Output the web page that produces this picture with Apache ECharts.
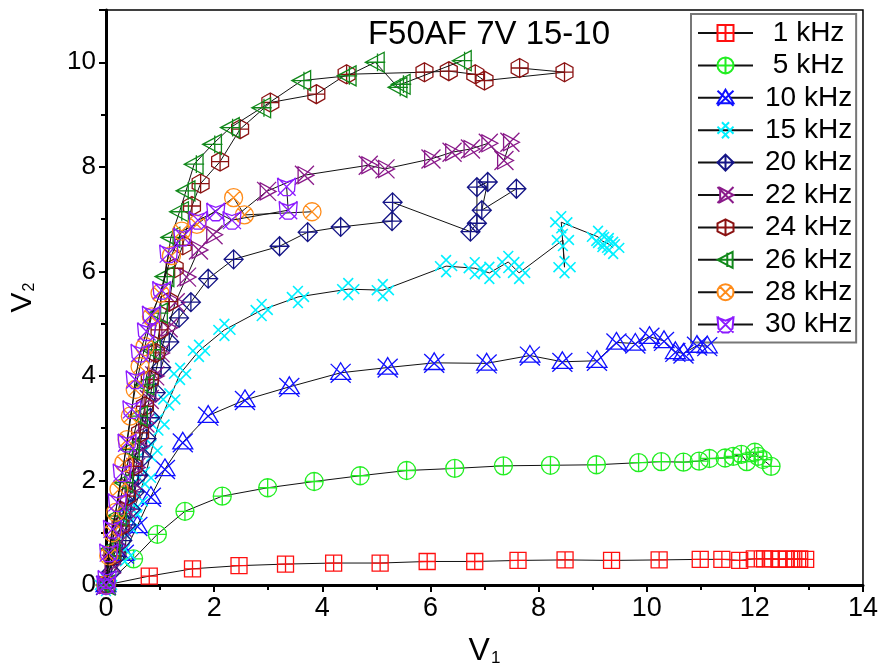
<!DOCTYPE html>
<html>
<head>
<meta charset="utf-8">
<script src="https://cdn.jsdelivr.net/npm/echarts@6/dist/echarts.min.js"></script>
<style>
  html, body { margin: 0; padding: 0; background: #fff; }
  #chart { width: 881px; height: 672px; }
</style>
</head>
<body>
<div id="chart"></div>
<script>
// Measured output voltage V2 against input voltage V1 at several frequencies
const seriesNames = [' 1 kHz', ' 5 kHz', '10 kHz', '15 kHz', '20 kHz', '22 kHz', '24 kHz', '26 kHz', '28 kHz', '30 kHz'];

const f1k = [[0,0],[0.8,0.17],[1.6,0.31],[2.46,0.37],[3.32,0.4],[4.21,0.42],[5.07,0.42],[5.94,0.45],[6.82,0.45],[7.62,0.47],[8.49,0.48],[9.35,0.47],[10.23,0.48],[10.99,0.49],[11.39,0.49],[11.72,0.47],[11.99,0.5],[12.18,0.5],[12.3,0.5],[12.45,0.49],[12.58,0.5],[12.72,0.49],[12.83,0.5],[12.94,0.49]];
const f5k = [[0,0],[0.51,0.5],[0.95,0.97],[1.46,1.41],[2.15,1.7],[2.99,1.86],[3.85,1.98],[4.7,2.09],[5.56,2.19],[6.45,2.23],[7.35,2.28],[8.22,2.29],[9.07,2.3],[9.85,2.34],[10.27,2.36],[10.68,2.35],[10.97,2.37],[11.16,2.42],[11.45,2.43],[11.6,2.46],[11.75,2.5],[11.85,2.36],[12.0,2.54],[12.06,2.46],[12.15,2.4],[12.3,2.27]];
const f10k = [[0,0],[0.33,0.6],[0.58,1.13],[0.83,1.69],[1.09,2.22],[1.42,2.73],[1.89,3.24],[2.57,3.54],[3.39,3.79],[4.34,4.06],[5.21,4.16],[6.07,4.25],[7.04,4.24],[7.84,4.39],[8.44,4.27],[9.08,4.29],[9.44,4.64],[9.79,4.62],[10.05,4.75],[10.32,4.67],[10.53,4.46],[10.68,4.43],[10.93,4.58],[11.12,4.57]];
const f15k = [[0,0],[0.35,0.57],[0.38,1.07],[0.47,1.35],[0.57,1.6],[0.72,2.05],[0.84,2.57],[0.97,3.07],[1.17,3.55],[1.37,4.04],[1.72,4.48],[2.19,4.88],[2.88,5.26],[3.55,5.51],[4.48,5.66],[5.12,5.64],[6.29,6.1],[6.82,6.06],[7.09,5.97],[7.44,6.18],[7.64,5.97],[8.45,6.6],[8.48,6.08],[8.42,6.94],[9.1,6.66],[9.18,6.58],[9.3,6.52],[9.38,6.45]];
const f20k = [[0,0],[0.1,0.25],[0.2,0.55],[0.3,0.85],[0.38,1.15],[0.46,1.45],[0.53,1.78],[0.6,2.1],[0.68,2.45],[0.75,2.8],[0.82,3.2],[0.92,3.68],[1.02,4.16],[1.17,4.65],[1.35,5.11],[1.57,5.41],[1.89,5.86],[2.36,6.23],[3.21,6.48],[3.73,6.75],[4.34,6.85],[5.29,6.96],[5.3,7.32],[6.74,6.76],[6.86,6.92],[6.86,7.61],[7.06,7.71],[6.95,7.17],[7.59,7.58]];
const f22k = [[0,0],[0.1,0.4],[0.2,0.75],[0.3,1.1],[0.38,1.45],[0.47,1.85],[0.55,2.25],[0.62,2.65],[0.72,3.1],[0.8,3.55],[0.9,4.0],[1.0,4.44],[1.15,4.92],[1.28,5.4],[1.49,5.89],[1.71,6.41],[1.98,6.7],[2.97,7.53],[3.67,7.84],[4.85,8.03],[5.16,7.96],[6.01,8.15],[6.4,8.28],[6.74,8.34],[7.07,8.45],[7.36,8.12],[7.47,8.47]];
const f24k = [[0,0],[0.12,0.56],[0.27,1.13],[0.39,1.7],[0.51,2.27],[0.63,2.91],[0.72,3.42],[0.81,3.93],[0.92,4.44],[0.99,4.88],[1.17,5.42],[1.27,6.06],[1.42,6.5],[1.59,7.25],[1.75,7.68],[2.11,8.1],[2.48,8.72],[3.04,9.23],[3.89,9.39],[4.45,9.77],[5.89,9.81],[6.34,9.83],[6.83,9.77],[7.0,9.65],[8.48,9.81],[7.65,9.89]];
const f26k = [[0,0],[0.09,0.69],[0.21,1.32],[0.33,1.96],[0.45,2.59],[0.6,3.23],[0.72,3.83],[0.84,4.5],[0.97,5.2],[1.09,5.9],[1.2,6.65],[1.36,7.14],[1.48,7.54],[1.63,8.05],[1.97,8.43],[2.3,8.75],[2.88,9.13],[3.62,9.65],[4.46,9.74],[4.98,10.0],[5.4,9.52],[5.46,9.58],[6.59,10.03]];
const f28k = [[0,0],[0.05,0.56],[0.12,1.0],[0.18,1.39],[0.24,1.83],[0.33,2.34],[0.39,2.78],[0.45,3.23],[0.54,3.74],[0.63,4.18],[0.72,4.56],[0.84,5.13],[1.0,5.58],[1.21,6.3],[1.4,6.77],[1.68,6.9],[2.36,7.41],[2.56,7.08],[3.81,7.14]];
const f30k = [[0,0],[0.02,0.11],[0.05,0.62],[0.12,1.07],[0.21,1.58],[0.3,2.15],[0.39,2.72],[0.48,3.36],[0.54,3.93],[0.63,4.44],[0.75,4.85],[0.84,5.17],[1.03,5.64],[1.16,6.34],[1.42,6.66],[1.7,6.98],[2.03,7.14],[2.33,6.98],[3.37,7.17],[3.34,7.62]];

const xTicks = [0, 2, 4, 6, 8, 10, 12, 14];
const yTicks = [0, 2, 4, 6, 8, 10];

const seriesData = [f1k, f5k, f10k, f15k, f20k, f22k, f24k, f26k, f28k, f30k];
const colors = ['#ff1010', '#22ee22', '#1010ff', '#00f0ff', '#141486', '#8a1a8a', '#8b1212', '#11881a', '#ff8c1a', '#8c1aff'];

// Outline marker shapes: each one is a base outline plus crossing strokes
const circ = 'M1,10A9,9,0,1,1,19,10A9,9,0,1,1,1,10Z';
const markers = [
  'path://M2,2L18,2L18,18L2,18ZM10,2L10,18M2,10L18,10',
  'path://' + circ + 'M10,1L10,19M1,10L19,10',
  'path://M10,1L19,16L1,16ZM1,2L19,19M19,2L1,19',
  'path://M1,6L14,19M6,1L19,14M1,14L14,1M6,19L19,6',
  'path://M10,1L19,10L10,19L1,10ZM10,1L10,19M1,10L19,10',
  'path://M4,2L4,18L19,10ZM1,1L19,19M1,19L19,1',
  'path://M10,1L18,5.5L18,14.5L10,19L2,14.5L2,5.5ZM10,1L10,19M2,10L18,10',
  'path://M1,10L18,1L18,19ZM12,2L12,18M1,10L19,10',
  'path://' + circ + 'M3.6,3.6L16.4,16.4M16.4,3.6L3.6,16.4',
  'path://M2,3L10,6L18,3L17,14L13,18L7,18L3,14ZM2,2L18,18M18,2L2,18'
];
const sizes = [16, 18, 20, 22, 19, 19, 19, 20, 18, 18];
const strokes = [1.3, 1.3, 1.3, 1.6, 1.3, 1.3, 1.3, 1.3, 1.3, 1.3];

const chart = echarts.init(document.getElementById('chart'));
const baseFont = 'Liberation Sans, Arial, sans-serif';
const narrowFont = 'Liberation Sans Narrow, Liberation Sans, Arial, sans-serif';

chart.setOption({
  animation: false,
  backgroundColor: '#fff',
  title: {
    text: 'F50AF 7V 15-10',
    left: 484,
    top: 13,
    textAlign: 'center',
    textStyle: { fontFamily: baseFont, fontSize: 33, fontWeight: 'normal', color: '#000' }
  },
  legend: {
    left: 691,
    top: 14,
    orient: 'vertical',
    data: seriesNames,
    itemWidth: 55,
    itemHeight: 20,
    itemGap: 4.4,
    padding: [5, 4, 4, 6],
    borderColor: '#777',
    borderWidth: 2,
    backgroundColor: '#fff',
    itemStyle: { color: '#fff' },
    textStyle: { fontFamily: baseFont, fontSize: 28, lineHeight: 24, color: '#000', padding: [0, 0, 0, 7] }
  },
  grid: {
    left: 102, right: 11, top: 10, bottom: 86,
    show: true, borderColor: '#000', borderWidth: 1.5, backgroundColor: 'transparent'
  },
  xAxis: {
    type: 'value', min: xTicks[0], max: xTicks[xTicks.length - 1], interval: 2,
    name: '{v|V}{s|1}',
    nameLocation: 'middle',
    nameGap: 50,
    nameTextStyle: {
      rich: {
        v: { fontFamily: narrowFont, fontSize: 32, color: '#000', lineHeight: 32, verticalAlign: 'bottom' },
        s: { fontFamily: narrowFont, fontSize: 17, color: '#000', lineHeight: 17, verticalAlign: 'bottom', padding: [14, 0, 0, 1] }
      }
    },
    axisLine: { lineStyle: { color: '#000', width: 3 } },
    axisTick: { inside: false, length: 7, lineStyle: { color: '#000', width: 2 } },
    minorTick: { show: true, splitNumber: 2, length: 5, lineStyle: { color: '#000', width: 2 } },
    splitLine: { show: false },
    axisLabel: { margin: 10, fontFamily: narrowFont, fontSize: 27, color: '#000' }
  },
  yAxis: {
    type: 'value', min: yTicks[0], max: 11, interval: 2,
    name: '{v|V}{s|2}',
    nameLocation: 'middle',
    nameGap: 68,
    nameTextStyle: {
      rich: {
        v: { fontFamily: baseFont, fontSize: 30, color: '#000', lineHeight: 30, verticalAlign: 'bottom' },
        s: { fontFamily: baseFont, fontSize: 16, color: '#000', lineHeight: 16, verticalAlign: 'bottom', padding: [12, 0, 0, 1] }
      }
    },
    axisLine: { lineStyle: { color: '#000', width: 3 } },
    axisTick: { inside: false, length: 7, lineStyle: { color: '#000', width: 2 } },
    minorTick: { show: true, splitNumber: 2, length: 5, lineStyle: { color: '#000', width: 2 } },
    splitLine: { show: false },
    axisLabel: { margin: 10, fontFamily: baseFont, fontSize: 26, color: '#000', showMaxLabel: false,
      formatter: v => (yTicks.indexOf(v) >= 0 ? String(v) : '') }
  },
  series: seriesNames.map((name, i) => ({
    name: name,
    type: 'line',
    data: seriesData[i],
    symbol: markers[i],
    symbolSize: sizes[i],
    symbolKeepAspect: true,
    showAllSymbol: true,
    lineStyle: { color: '#111', width: 1 },
    itemStyle: { color: 'rgba(255,255,255,0)', borderColor: colors[i], borderWidth: strokes[i] },
    emphasis: { disabled: true },
    z: 2 + i
  }))
});
</script>
</body>
</html>
